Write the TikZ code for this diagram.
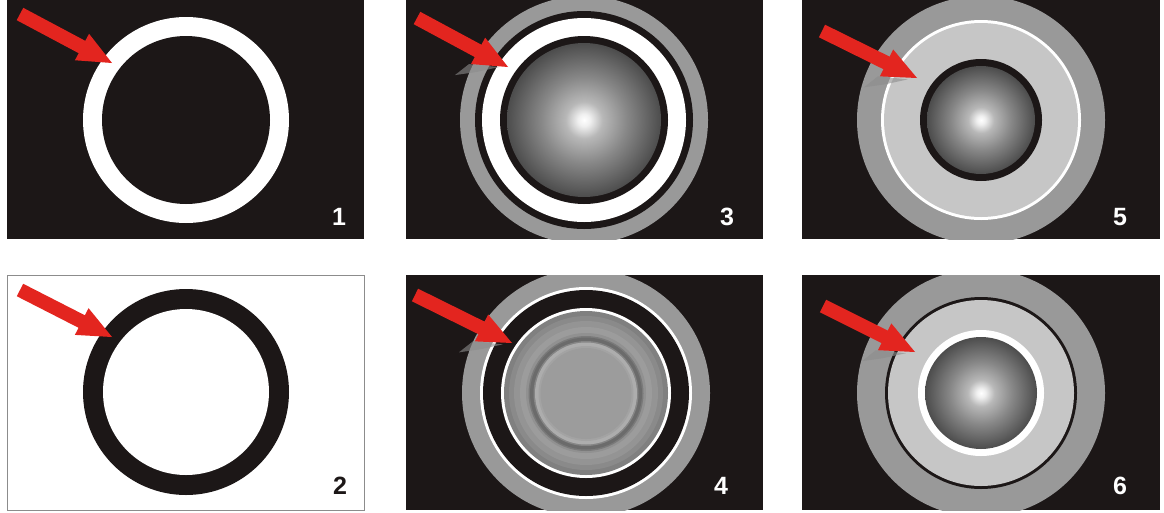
\documentclass[tikz,border=0pt]{standalone}
\usepackage{fontspec}
\setmainfont{Liberation Sans}
\usetikzlibrary{calc}
\definecolor{panelbg}{HTML}{1C1717}
\definecolor{ringgray}{HTML}{999999}
\definecolor{palegray}{HTML}{C6C6C6}
\definecolor{arrowred}{HTML}{E3251F}
\definecolor{framegray}{HTML}{8C8C8C}
\pgfdeclareradialshading{sphere}{\pgfpoint{0bp}{0bp}}{color(0bp)=(white); color(2bp)=(white!94!black); color(6bp)=(white!72!black); color(14bp)=(white!53!black); color(25bp)=(white!30!black); color(50bp)=(white!30!black)}
\tikzset{
  panel/.style={fill=panelbg},
  shaft/.style={draw=arrowred, line width=14pt},
  num/.style={font=\bfseries\fontsize{25}{25}\selectfont, text=white, inner sep=0pt},
  shadowblob/.style={fill=white!55!black, opacity=0.6},
}
\newcommand\redarrow[2]{%
  \coordinate (hb) at ($(#2)!34pt!(#1)$);
  \coordinate (lb) at ($(hb)!15pt!-90:(#2)$);
  \coordinate (ub) at ($(hb)!15pt!90:(#2)$);
  \coordinate (hx) at ($(hb)!-2pt!(#1)$);
  \draw[shaft] (#1) -- (hx);
  \fill[arrowred] (ub) -- (#2) -- (lb) -- cycle;
}
\newcommand\arrowshadow[2]{%
  \coordinate (hb) at ($(#2)!34pt!(#1)$);
  \coordinate (lb) at ($(hb)!15pt!-90:(#2)$);
  \fill[shadowblob] ($(lb)+(-2,0)$) -- ($(lb)+(28,3)$) -- ($(lb)+(5,8)$) -- ($(lb)+(-16,11)$) -- cycle;
}
\begin{document}
\begin{tikzpicture}[x=1pt,y=-1pt]
\useasboundingbox[fill=white] (0,0) rectangle (1164,512);

% ---------- panel 1
\fill[panel] (7,0) rectangle (364,239);
\fill[white] (186,120) circle[radius=103pt];
\fill[panelbg] (186,120) circle[radius=84pt];
\coordinate (t1) at (20,14); \coordinate (p1) at (112,63);
\redarrow{t1}{p1}
\node[num] (n1) at (339,217) {1};

% ---------- panel 2
\fill[white] (7,275) rectangle (364,510);
\draw[framegray, line width=1pt] (7,275) rectangle (364,510);
\fill[panelbg] (186,392) circle[radius=103pt];
\fill[white] (186,392) circle[radius=83pt];
\coordinate (t2) at (20,290); \coordinate (p2) at (112,337);
\redarrow{t2}{p2}
\node[num, text=panelbg] (n2) at (340,486) {2};

% ---------- panel 3
\begin{scope}
  \clip (406,0) rectangle (763,239);
  \fill[panel] (406,0) rectangle (763,239);
  \fill[ringgray] (584,120) circle[radius=124pt];
  \fill[panelbg] (584,120) circle[radius=109pt];
  \fill[white] (584,120) circle[radius=102pt];
  \fill[panelbg] (584,120) circle[radius=84pt];
  \shade[shading=sphere] (584,120) circle[radius=77pt];
  \coordinate (t3) at (417,18); \coordinate (p3) at (508,67);
  \arrowshadow{t3}{p3}
  \redarrow{t3}{p3}
\end{scope}
\node[num] (n3) at (727,217) {3};

% ---------- panel 4
\begin{scope}
  \clip (406,275) rectangle (763,510);
  \fill[panel] (406,275) rectangle (763,510);
  \fill[ringgray] (586,393) circle[radius=124pt];
  \fill[white] (586,393) circle[radius=106pt];
  \fill[panelbg] (586,393) circle[radius=103pt];
  \fill[white] (586,393) circle[radius=85pt];
  \fill[white!50!black] (586,393) circle[radius=82pt];
  \fill[white!54!black] (586,393) circle[radius=77pt];
  \fill[white!58!black] (586,393) circle[radius=72pt];
  \fill[white!61!black] (586,393) circle[radius=66pt];
  \fill[white!57!black] (586,393) circle[radius=60pt];
  \fill[white!48!black] (586,393.5) circle[radius=57.5pt];
  \fill[white!42!black] (586,393.5) circle[radius=56pt];
  \fill[white!52!black] (586,393.5) circle[radius=52.5pt];
  \fill[white!68!black] (586,393.5) circle[radius=51pt];
  \fill[white!64!black] (586,393.5) circle[radius=47.5pt];
  \fill[white!61!black] (586,393.5) circle[radius=45.5pt];
  \coordinate (t4) at (415,295); \coordinate (p4) at (512,343);
  \arrowshadow{t4}{p4}
  \redarrow{t4}{p4}
\end{scope}
\node[num] (n4) at (721,486) {4};

% ---------- panel 5
\begin{scope}
  \clip (802,0) rectangle (1160,239);
  \fill[panel] (802,0) rectangle (1160,239);
  \fill[ringgray] (981,120) circle[radius=124pt];
  \fill[white] (981,120) circle[radius=100pt];
  \fill[palegray] (981,120) circle[radius=97pt];
  \fill[panelbg] (981,120) circle[radius=61pt];
  \shade[shading=sphere] (981,120) circle[radius=54pt];
  \coordinate (t5) at (822,31); \coordinate (p5) at (917,78);
  \arrowshadow{t5}{p5}
  \redarrow{t5}{p5}
\end{scope}
\node[num] (n5) at (1120,217) {5};

% ---------- panel 6
\begin{scope}
  \clip (802,275) rectangle (1160,510);
  \fill[panel] (802,275) rectangle (1160,510);
  \fill[ringgray] (981,393) circle[radius=124pt];
  \fill[panelbg] (981,393) circle[radius=96pt];
  \fill[palegray] (981,393) circle[radius=93pt];
  \fill[white] (981,393) circle[radius=63pt];
  \shade[shading=sphere] (981,393) circle[radius=56pt];
  \coordinate (t6) at (823,306); \coordinate (p6) at (915,352);
  \arrowshadow{t6}{p6}
  \redarrow{t6}{p6}
\end{scope}
\node[num] (n6) at (1120,486) {6};
\end{tikzpicture}
\end{document}
